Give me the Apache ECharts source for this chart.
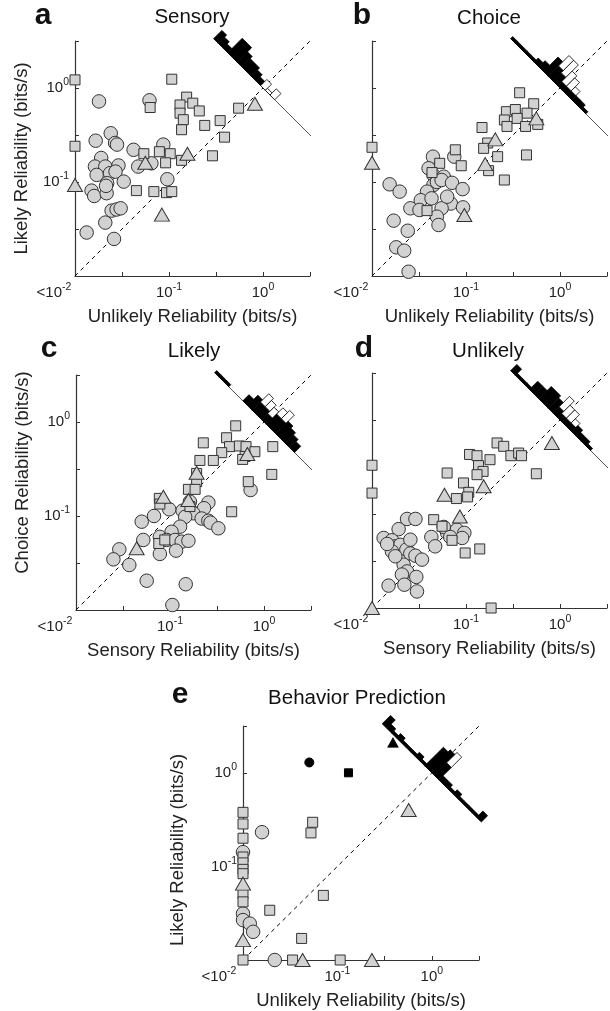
<!DOCTYPE html>
<html>
<head>
<meta charset="UTF-8"/>
<title>reliability</title>
<script src="https://cdn.jsdelivr.net/npm/echarts@6/dist/echarts.min.js"></script>
<style>
html,body{margin:0;padding:0;background:#fff;}
#chart{width:610px;height:1011px;}
</style>
</head>
<body>
<div id="chart"></div>
<script>
// values in bits/s, 0 = below 10^-2 (drawn on the axis)
var aCircles = [[0.018,0.72],[0.062,0.74],[0.024,0.33],[0.0166,0.275],[0.0267,0.26],[0.028,0.25],[0.042,0.22],[0.019,0.18],[0.0163,0.146],[0.021,0.146],[0.029,0.15],[0.017,0.119],[0.0236,0.124],[0.027,0.129],[0.022,0.097],[0.033,0.101],[0.047,0.146],[0.065,0.158],[0.087,0.25],[0.096,0.107],[0.015,0.081],[0.016,0.071],[0.0217,0.076],[0.0214,0.091],[0.0245,0.0496],[0.0277,0.051],[0.0306,0.0525],[0.021,0.037],[0.0133,0.029],[0.026,0.0248]];
var aSquares = [[0,1.22],[0,0.24],[0.107,1.24],[0.063,0.62],[0.154,0.80],[0.131,0.66],[0.179,0.69],[0.21,0.57],[0.131,0.54],[0.142,0.46],[0.136,0.36],[0.24,0.40],[0.35,0.45],[0.55,0.61],[0.39,0.30],[0.29,0.19],[0.054,0.20],[0.079,0.21],[0.103,0.20],[0.092,0.16],[0.136,0.17],[0.045,0.081],[0.069,0.079],[0.094,0.077],[0.107,0.079]];
var aTriangles = [[0,0.093],[0.056,0.16],[0.157,0.20],[0.084,0.045],[0.82,0.68]];

var bCircles = [[0.0445,0.186],[0.040,0.14],[0.0453,0.118],[0.058,0.114],[0.075,0.186],[0.045,0.093],[0.049,0.10],[0.055,0.105],[0.0385,0.079],[0.033,0.064],[0.0256,0.0525],[0.032,0.0504],[0.071,0.098],[0.092,0.084],[0.069,0.059],[0.093,0.0537],[0.055,0.0525],[0.049,0.0428],[0.051,0.0349],[0.0154,0.0945],[0.0197,0.079],[0.017,0.0388],[0.024,0.0303],[0.0181,0.0202],[0.022,0.0186],[0.0245,0.0111],[0.063,0.0698],[0.043,0.067]];
var bSquares = [[0,0.234],[0.372,0.89],[0.525,0.68],[0.269,0.56],[0.335,0.59],[0.446,0.54],[0.256,0.457],[0.273,0.39],[0.35,0.475],[0.43,0.39],[0.58,0.41],[0.148,0.38],[0.17,0.26],[0.154,0.228],[0.217,0.186],[0.44,0.194],[0.174,0.132],[0.256,0.105],[0.077,0.22],[0.089,0.149],[0.0525,0.158],[0.0435,0.126],[0.0385,0.0496]];
var bTriangles = [[0,0.16],[0.205,0.284],[0.16,0.155],[0.096,0.0446],[0.56,0.475]];

var cCircles = [[0.256,0.139],[0.23,0.121],[0.177,0.107],[0.136,0.114],[0.145,0.098],[0.217,0.094],[0.256,0.089],[0.27,0.085],[0.327,0.074],[0.128,0.077],[0.104,0.068],[0.0676,0.10],[0.05,0.087],[0.078,0.060],[0.092,0.0556],[0.113,0.0556],[0.133,0.0533],[0.157,0.0545],[0.052,0.0556],[0.116,0.0428],[0.078,0.0395],[0.0289,0.0442],[0.025,0.0346],[0.0369,0.0301],[0.0565,0.0205],[0.147,0.0188],[0.106,0.0113],[0.72,0.189],[0.163,0.142],[0.098,0.118]];
var cSquares = [[0.50,0.91],[0.40,0.68],[0.226,0.60],[0.43,0.547],[0.547,0.556],[0.644,0.547],[0.80,0.483],[0.63,0.43],[0.593,0.40],[0.355,0.472],[0.289,0.39],[0.208,0.39],[1.24,0.547],[1.21,0.277],[0.68,0.232],[0.192,0.284],[0.192,0.232],[0.157,0.192],[0.185,0.192],[0.077,0.154],[0.078,0.134],[0.163,0.126],[0.453,0.111],[0.076,0.051],[0.088,0.0556]];
var cTriangles = [[0.192,0.289],[0.085,0.16],[0.157,0.148],[0.0442,0.0453],[0.665,0.457]];

var dCircles = [[0.0236,0.0886],[0.029,0.0886],[0.0192,0.069],[0.0133,0.0556],[0.0163,0.0525],[0.0177,0.0453],[0.02,0.047],[0.0163,0.040],[0.0232,0.0418],[0.0256,0.038],[0.029,0.036],[0.034,0.0327],[0.0217,0.0289],[0.0236,0.0245],[0.0208,0.0227],[0.0296,0.0214],[0.0221,0.0177],[0.0301,0.015],[0.015,0.0173],[0.0428,0.0569],[0.047,0.0453],[0.063,0.063],[0.080,0.068],[0.096,0.063],[0.091,0.0556],[0.058,0.0728],[0.068,0.0569],[0.0177,0.0355],[0.0256,0.0533],[0.0145,0.048]];
var dSquares = [[0,0.33],[0,0.167],[0.214,0.57],[0.252,0.525],[0.109,0.43],[0.131,0.417],[0.18,0.378],[0.30,0.417],[0.363,0.445],[0.39,0.417],[0.136,0.327],[0.152,0.284],[0.131,0.262],[0.063,0.273],[0.56,0.268],[0.094,0.214],[0.107,0.17],[0.079,0.146],[0.104,0.152],[0.0453,0.087],[0.0556,0.074],[0.071,0.0525],[0.14,0.0425],[0.098,0.0385],[0.185,0]];
var dTriangles = [[0,0],[0.059,0.16],[0.086,0.094],[0.154,0.197],[0.82,0.57]];

var eCircles = [[0,0.142],[0,0.0313],[0,0.0267],[0.0118,0.0245],[0.0128,0.02],[0.0159,0.232],[0.0217,0]];
var eSquares = [[0,0.378],[0,0.284],[0,0.20],[0,0.126],[0,0.109],[0,0.093],[0,0.0836],[0,0.051],[0,0.0418],[0,0],[0.0547,0.296],[0.0525,0.228],[0.071,0.049],[0.0192,0.034],[0.0418,0.017],[0.0335,0],[0.107,0]];
var eTriangles = [[0,0.0655],[0,0.0163],[0.0428,0],[0.232,0],[0.569,0.40]];
var eBlackCircle = [[0.0504,1.29]];
var eBlackSquare = [[0.131,1.0]];
var eBlackTriangle = [[0.388,2.1]];

// histograms of log10(y/x) along the anti-diagonal
var histBins = [1.0,0.9,0.8,0.7,0.6,0.5,0.4,0.3,0.2,0.1,0.0,-0.1,-0.2,-0.3,-0.4,-0.5,-0.6,-0.7,-0.8,-0.9,-1.0];
var aBlack = [4,3,2,7,7,5,4,4,3,2,0,0,0,0,0,0,0,0,0,0,0];
var aWhite = [0,0,0,0,0,0,0,0,0,0,3,1,3,0,0,0,0,0,0,0,0];
var bBlack = [1,1,1,1,1,2,3,7,5,4,2,2,2,2,2,1,0,0,0,0,0];
var bWhite = [0,0,0,0,0,0,0,0,5,6,5,4,2,0,0,0,0,0,0,0,0];
var cBlack = [1,1,1,0,0,0,3,5,4,4,3,5,5,6,5,4,3,0,0,0,0];
var cWhite = [0,0,0,0,0,0,0,0,4,3,3,3,4,0,0,0,0,0,0,0,0];
var dBlack = [3,1,1,1,4,4,6,6,5,3,2,2,2,3,2,2,1,0,0,0,0];
var dWhite = [0,0,0,0,0,0,0,0,0,5,4,4,2,0,0,0,0,0,0,0,0];
var eBlack = [4,2,1,2,1,1,1,2,1,9,10,6,2,2,1,2,1,1,1,1,3];
var eWhite = [0,0,0,0,0,0,0,0,0,0,0,5,0,0,0,0,0,0,0,0,0];
var histSpan = [1.05,-1.05];

var FONT = '"Liberation Sans", Arial, Helvetica, sans-serif';
var binW = 0.1, unit = 0.022;

function lg(v){ return v > 0 ? Math.max(Math.log10(v), -2) : -2; }
function pts(arr){ return arr.map(function(p){ return [lg(p[0]), lg(p[1])]; }); }

var rich = {
    t: {fontSize: 15, fontFamily: FONT, color: '#222', lineHeight: 22},
    s: {fontSize: 10.5, fontFamily: FONT, color: '#222', lineHeight: 9, verticalAlign: 'top'},
    p: {width: 42}, q: {width: 48}
};

var panels = [
    {grid:{left:75, top:41, width:235, height:235}, x:'Unlikely Reliability (bits/s)', y:'Likely Reliability (bits/s)', yGap:44, yPad:[0,0,0,0], pad:'p',
     c:aCircles, s:aSquares, t:aTriangles, hb:aBlack, hw:aWhite},
    {grid:{left:372, top:41, width:235, height:235}, x:'Unlikely Reliability (bits/s)', y:null, pad:'p',
     c:bCircles, s:bSquares, t:bTriangles, hb:bBlack, hw:bWhite},
    {grid:{left:76, top:375, width:235, height:235}, x:'Sensory Reliability (bits/s)', y:'Choice Reliability (bits/s)', yGap:44, yPad:[0,0,0,40], pad:'p',
     c:cCircles, s:cSquares, t:cTriangles, hb:cBlack, hw:cWhite},
    {grid:{left:372, top:373, width:235, height:235}, x:'Sensory Reliability (bits/s)', y:null, pad:'p',
     c:dCircles, s:dSquares, t:dTriangles, hb:dBlack, hw:dWhite},
    {grid:{left:243, top:726, width:236, height:236}, x:'Unlikely Reliability (bits/s)', y:'Likely Reliability (bits/s)', yGap:56, yPad:[0,14,0,0], pad:'q',
     c:eCircles, s:eSquares, t:eTriangles, hb:eBlack, hw:eWhite}
];

function histSeries(gi, black, white){
    return {
        type: 'custom', xAxisIndex: gi, yAxisIndex: gi, clip: false, z: 5, silent: true,
        data: histBins.map(function(d, i){ return [d, black[i], white[i]]; }),
        encode: {x: 0, y: 0},
        renderItem: function(params, api){
            var d = api.value(0), nb = api.value(1), nw = api.value(2);
            function quad(s0, s1, fill){
                var p = [[d - binW/2, s0],[d + binW/2, s0],[d + binW/2, s1],[d - binW/2, s1]].map(function(q){
                    return api.coord([-q[0]/2 + q[1], q[0]/2 + q[1]]);
                });
                return {type: 'polygon', shape: {points: p}, style: {fill: fill, stroke: '#000', lineWidth: 0.8}};
            }
            var ch = [];
            if (nb > 0) ch.push(quad(0, nb*unit, '#000'));
            if (nw > 0) ch.push(quad(nb*unit, (nb+nw)*unit, '#fff'));
            return {type: 'group', children: ch};
        }
    };
}

function scatter(gi, data, symbol, size, color){
    return {
        type: 'scatter', xAxisIndex: gi, yAxisIndex: gi, data: pts(data), symbol: symbol, symbolSize: size,
        clip: false, z: 3,
        itemStyle: {color: color || '#d2d2d2', borderColor: color ? color : '#333', borderWidth: 1, opacity: 1}
    };
}

var grids = [], xAxes = [], yAxes = [], series = [];
panels.forEach(function(P, i){
    grids.push(P.grid);
    var axisBase = {
        gridIndex: i, type: 'value', min: -2, max: 0.5, interval: 0.5,
        axisLine: {show: true, onZero: false, lineStyle: {color: '#333', width: 1.2}},
        axisTick: {show: true, inside: true, length: 4, lineStyle: {color: '#333'}},
        splitLine: {show: false}
    };
    xAxes.push(Object.assign({}, axisBase, {
        axisLabel: {margin: 6, showMinLabel: true, showMaxLabel: true, rich: rich, formatter: function(v){
            if (Math.abs(v + 2) < 1e-6) return '{t|<10}{s|-2}{' + P.pad + '|}';
            if (Math.abs(v + 1) < 1e-6) return '{t|10}{s|-1}';
            if (Math.abs(v) < 1e-6) return '{t|10}{s|0}';
            return '';
        }},
        name: P.x, nameLocation: 'middle', nameGap: 31,
        nameTextStyle: {fontSize: 18.5, fontFamily: FONT, color: '#222'}
    }));
    yAxes.push(Object.assign({}, axisBase, {
        axisLabel: {show: !!P.y, margin: 6, rich: rich, formatter: function(v){
            if (Math.abs(v + 1) < 1e-6) return '{t|10}{s|-1}';
            if (Math.abs(v) < 1e-6) return '{t|10}{s|0}';
            return '';
        }},
        name: P.y || '', nameLocation: 'middle', nameGap: P.yGap || 40,
        nameTextStyle: {fontSize: 18.5, fontFamily: FONT, color: '#222', padding: P.yPad || 0}
    }));
    series.push({
        type: 'line', xAxisIndex: i, yAxisIndex: i, data: [[-2,-2],[0.5,0.5]], symbol: 'none', clip: false, z: 2, silent: true,
        lineStyle: {color: '#000', width: 1, type: [4,4]}
    });
    series.push({
        type: 'line', xAxisIndex: i, yAxisIndex: i, symbol: 'none', clip: false, z: 4, silent: true,
        data: histSpan.map(function(d){ return [-d/2, d/2]; }),
        lineStyle: {color: '#555', width: 1}
    });
    series.push(histSeries(i, P.hb, P.hw));
    series.push(scatter(i, P.c, 'circle', 13.5));
    series.push(scatter(i, P.s, 'rect', 10));
    series.push(scatter(i, P.t, 'triangle', [15, 13]));
});
series.push(scatter(4, eBlackCircle, 'circle', 9, '#000'));
series.push(scatter(4, eBlackSquare, 'rect', 8, '#000'));
series.push(scatter(4, eBlackTriangle, 'triangle', [10, 9], '#000'));

function txt(x, y, s, size, bold){
    return {type: 'text', x: x, y: y, silent: true, style: {
        text: s, font: (bold ? 'bold ' : '') + size + 'px ' + FONT,
        fill: '#111', align: 'center', verticalAlign: 'middle', textAlign: 'center', textVerticalAlign: 'middle'
    }};
}

var chart = echarts.init(document.getElementById('chart'));
chart.setOption({
    animation: false,
    backgroundColor: '#fff',
    grid: grids,
    xAxis: xAxes,
    yAxis: yAxes,
    series: series,
    graphic: [
        txt(43, 16, 'a', 30, true), txt(192, 17, 'Sensory', 20.5),
        txt(362, 16, 'b', 30, true), txt(489, 18, 'Choice', 20.5),
        txt(49, 349, 'c', 30, true), txt(194, 351, 'Likely', 20.5),
        txt(364, 349, 'd', 30, true), txt(488, 351, 'Unlikely', 20.5),
        txt(180, 695, 'e', 30, true), txt(357, 698, 'Behavior Prediction', 20.5)
    ]
});
</script>
</body>
</html>
